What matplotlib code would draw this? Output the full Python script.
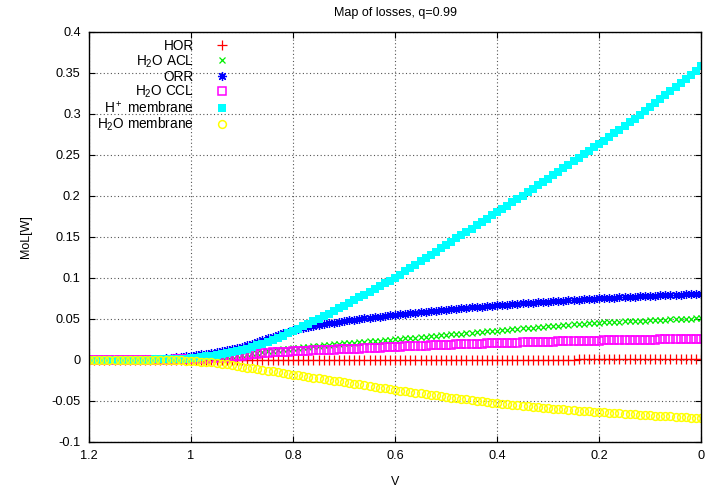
import numpy as np
import matplotlib
matplotlib.use("Agg")
import matplotlib.pyplot as plt

plt.rcParams['font.family'] = ['Liberation Sans', 'DejaVu Sans']
plt.rcParams['mathtext.default'] = 'regular'

# x grid: cell voltage from 1.2 down to 0.0 V in 0.01 steps
V = np.round(np.linspace(1.2, 0.0, 121), 2)

labels = ["HOR", "H$_2$O ACL", "ORR", "H$_2$O CCL", "H$^+$ membrane", "H$_2$O membrane"]

hor = [0.0000]*20 + [0.0000,
    0.0000, 0.0001, 0.0001, 0.0001, 0.0001, 0.0001, 0.0002, 0.0002, 0.0002, 0.0002,
    0.0002, 0.0002, 0.0003, 0.0003, 0.0003, 0.0003, 0.0003, 0.0003, 0.0003, 0.0003,
    0.0003, 0.0003, 0.0003, 0.0003, 0.0004, 0.0004, 0.0004, 0.0004, 0.0004, 0.0004,
    0.0004, 0.0004, 0.0004, 0.0004, 0.0004, 0.0004, 0.0004, 0.0004, 0.0004, 0.0004,
    0.0004, 0.0004, 0.0004, 0.0004, 0.0005, 0.0005, 0.0005, 0.0005, 0.0005, 0.0005,
    0.0005, 0.0005, 0.0005, 0.0005, 0.0005, 0.0005, 0.0005, 0.0005, 0.0005, 0.0005,
    0.0005, 0.0005, 0.0005, 0.0005, 0.0005, 0.0005, 0.0005, 0.0005, 0.0005, 0.0005,
    0.0005, 0.0005, 0.0005, 0.0005, 0.0005, 0.0006, 0.0006, 0.0006, 0.0006, 0.0006,
    0.0006, 0.0006, 0.0006, 0.0006, 0.0006, 0.0006, 0.0006, 0.0006, 0.0006, 0.0006,
    0.0006, 0.0006, 0.0006, 0.0006, 0.0006, 0.0006, 0.0006, 0.0006, 0.0006, 0.0006]

h2o_acl = [
    0.0000, 0.0000, 0.0000, 0.0000, 0.0000, 0.0000, 0.0001, 0.0001, 0.0001, 0.0001,
    0.0002, 0.0002, 0.0003, 0.0003, 0.0004,
    0.0005, 0.0006, 0.0007, 0.0008, 0.0009, 0.0011,
    0.0014, 0.0017, 0.0020, 0.0024, 0.0028, 0.0035, 0.0042, 0.0050, 0.0058, 0.0066,
    0.0074, 0.0082, 0.0090, 0.0098, 0.0106, 0.0114, 0.0122, 0.0130, 0.0138, 0.0145,
    0.0151, 0.0157, 0.0163, 0.0168, 0.0174, 0.0180, 0.0185, 0.0191, 0.0196, 0.0201,
    0.0206, 0.0211, 0.0216, 0.0221, 0.0226, 0.0231, 0.0236, 0.0241, 0.0245, 0.0250,
    0.0255, 0.0261, 0.0266, 0.0272, 0.0277, 0.0283, 0.0288, 0.0294, 0.0299, 0.0305,
    0.0310, 0.0315, 0.0321, 0.0326, 0.0331, 0.0336, 0.0342, 0.0347, 0.0352, 0.0357,
    0.0362, 0.0368, 0.0373, 0.0378, 0.0384, 0.0389, 0.0394, 0.0400, 0.0405, 0.0410,
    0.0415, 0.0419, 0.0424, 0.0428, 0.0432, 0.0437, 0.0441, 0.0445, 0.0450, 0.0454,
    0.0457, 0.0460, 0.0463, 0.0466, 0.0469, 0.0471, 0.0474, 0.0477, 0.0480, 0.0483,
    0.0485, 0.0488, 0.0490, 0.0493, 0.0495, 0.0498, 0.0500, 0.0503, 0.0505, 0.0508]

orr = [
    0.0000, 0.0000, 0.0000, 0.0001, 0.0001, 0.0001, 0.0002, 0.0002, 0.0003, 0.0004,
    0.0005, 0.0007, 0.0009, 0.0012, 0.0016,
    0.0020, 0.0025, 0.0031, 0.0037, 0.0043, 0.0050,
    0.0059, 0.0068, 0.0078, 0.0089, 0.0100, 0.0111, 0.0123, 0.0135, 0.0147, 0.0160,
    0.0180, 0.0200, 0.0220, 0.0240, 0.0262, 0.0284, 0.0305, 0.0325, 0.0343, 0.0360,
    0.0374, 0.0387, 0.0400, 0.0413, 0.0425, 0.0435, 0.0445, 0.0455, 0.0465, 0.0475,
    0.0483, 0.0491, 0.0499, 0.0507, 0.0514, 0.0521, 0.0528, 0.0535, 0.0543, 0.0550,
    0.0557, 0.0564, 0.0570, 0.0576, 0.0582, 0.0588, 0.0594, 0.0599, 0.0604, 0.0610,
    0.0616, 0.0622, 0.0628, 0.0634, 0.0640, 0.0645, 0.0650, 0.0655, 0.0660, 0.0665,
    0.0670, 0.0675, 0.0679, 0.0684, 0.0688, 0.0693, 0.0697, 0.0701, 0.0705, 0.0709,
    0.0714, 0.0718, 0.0722, 0.0727, 0.0731, 0.0735, 0.0739, 0.0743, 0.0747, 0.0751,
    0.0754, 0.0757, 0.0760, 0.0763, 0.0766, 0.0769, 0.0772, 0.0775, 0.0778, 0.0781,
    0.0784, 0.0786, 0.0789, 0.0791, 0.0794, 0.0796, 0.0798, 0.0800, 0.0802, 0.0804]

h2o_ccl = [
    0.0000, 0.0000, 0.0000, 0.0000, 0.0000, 0.0000, 0.0000, 0.0000, 0.0001, 0.0001,
    0.0001, 0.0002, 0.0002, 0.0003, 0.0003,
    0.0004, 0.0005, 0.0006, 0.0007, 0.0008, 0.0010,
    0.0012, 0.0014, 0.0016, 0.0018, 0.0020, 0.0023, 0.0027, 0.0033, 0.0042, 0.0053,
    0.0064, 0.0072, 0.0078, 0.0083, 0.0087, 0.0091, 0.0094, 0.0098, 0.0101, 0.0104,
    0.0107, 0.0110, 0.0112, 0.0115, 0.0117, 0.0120, 0.0122, 0.0125, 0.0127, 0.0130,
    0.0133, 0.0136, 0.0139, 0.0142, 0.0145, 0.0148, 0.0151, 0.0154, 0.0157, 0.0160,
    0.0163, 0.0165, 0.0168, 0.0170, 0.0173, 0.0175, 0.0178, 0.0180, 0.0183, 0.0185,
    0.0187, 0.0189, 0.0191, 0.0193, 0.0195, 0.0197, 0.0199, 0.0201, 0.0203, 0.0205,
    0.0207, 0.0209, 0.0210, 0.0212, 0.0214, 0.0215, 0.0217, 0.0219, 0.0220, 0.0222,
    0.0223, 0.0225, 0.0226, 0.0228, 0.0229, 0.0230, 0.0232, 0.0233, 0.0235, 0.0236,
    0.0237, 0.0238, 0.0239, 0.0240, 0.0241, 0.0242, 0.0243, 0.0244, 0.0245, 0.0247,
    0.0248, 0.0249, 0.0250, 0.0251, 0.0252, 0.0252, 0.0253, 0.0254, 0.0255, 0.0256]

h_membrane = [
    0.0000, 0.0000, 0.0000, 0.0000, 0.0001, 0.0001, 0.0001, 0.0002, 0.0002, 0.0003,
    0.0003, 0.0004, 0.0005, 0.0006, 0.0007,
    0.0008, 0.0010, 0.0012, 0.0015, 0.0017, 0.0020,
    0.0027, 0.0035, 0.0043, 0.0051, 0.0060, 0.0071, 0.0082, 0.0094, 0.0107, 0.0120,
    0.0138, 0.0157, 0.0177, 0.0198, 0.0220, 0.0245, 0.0270, 0.0296, 0.0323, 0.0350,
    0.0379, 0.0409, 0.0439, 0.0469, 0.0500, 0.0532, 0.0564, 0.0596, 0.0628, 0.0660,
    0.0694, 0.0728, 0.0762, 0.0796, 0.0830, 0.0864, 0.0898, 0.0932, 0.0966, 0.1000,
    0.1040, 0.1080, 0.1120, 0.1160, 0.1200, 0.1240, 0.1280, 0.1320, 0.1360, 0.1400,
    0.1440, 0.1480, 0.1520, 0.1560, 0.1600, 0.1640, 0.1680, 0.1720, 0.1760, 0.1800,
    0.1840, 0.1881, 0.1921, 0.1961, 0.2002, 0.2043, 0.2084, 0.2126, 0.2168, 0.2210,
    0.2252, 0.2294, 0.2336, 0.2378, 0.2420, 0.2462, 0.2504, 0.2546, 0.2588, 0.2630,
    0.2673, 0.2717, 0.2761, 0.2805, 0.2850, 0.2895, 0.2941, 0.2987, 0.3033, 0.3080,
    0.3127, 0.3175, 0.3223, 0.3271, 0.3320, 0.3370, 0.3421, 0.3473, 0.3526, 0.3580]

h2o_membrane = [
    0.0000, 0.0000, 0.0000, 0.0000, 0.0000, 0.0000, -0.0001, -0.0001, -0.0001, -0.0001,
    -0.0002, -0.0002, -0.0002, -0.0003, -0.0003,
    -0.0004, -0.0005, -0.0006, -0.0007, -0.0008, -0.0010,
    -0.0015, -0.0020, -0.0025, -0.0031, -0.0037, -0.0046, -0.0055, -0.0065, -0.0075, -0.0085,
    -0.0094, -0.0103, -0.0112, -0.0121, -0.0130, -0.0140, -0.0150, -0.0160, -0.0170, -0.0180,
    -0.0189, -0.0198, -0.0207, -0.0216, -0.0225, -0.0234, -0.0243, -0.0252, -0.0261, -0.0270,
    -0.0280, -0.0289, -0.0299, -0.0308, -0.0318, -0.0327, -0.0337, -0.0346, -0.0356, -0.0365,
    -0.0374, -0.0382, -0.0391, -0.0399, -0.0408, -0.0416, -0.0425, -0.0433, -0.0442, -0.0450,
    -0.0458, -0.0466, -0.0474, -0.0482, -0.0490, -0.0498, -0.0506, -0.0514, -0.0522, -0.0530,
    -0.0536, -0.0542, -0.0548, -0.0554, -0.0560, -0.0566, -0.0572, -0.0578, -0.0584, -0.0590,
    -0.0594, -0.0599, -0.0603, -0.0608, -0.0612, -0.0617, -0.0621, -0.0626, -0.0630, -0.0635,
    -0.0639, -0.0643, -0.0647, -0.0651, -0.0655, -0.0659, -0.0663, -0.0667, -0.0671, -0.0675,
    -0.0679, -0.0682, -0.0686, -0.0689, -0.0693, -0.0696, -0.0700, -0.0703, -0.0707, -0.0710]

series = [hor, h2o_acl, orr, h2o_ccl, h_membrane, h2o_membrane]

xticks = [1.2, 1.0, 0.8, 0.6, 0.4, 0.2, 0.0]
xticklabels = ["1.2", "1", "0.8", "0.6", "0.4", "0.2", "0"]
yticks = [-0.1, -0.05, 0, 0.05, 0.1, 0.15, 0.2, 0.25, 0.3, 0.35, 0.4]
yticklabels = ["-0.1", "-0.05", "0", "0.05", "0.1", "0.15", "0.2", "0.25", "0.3", "0.35", "0.4"]

styles = [
    dict(marker='+', color='#ff0000', ms=6.5, mew=0.9),
    dict(marker='x', color='#00ee00', ms=5.0, mew=0.9),
    dict(marker=(8, 2, 0), color='#0000ff', ms=6.5, mew=0.9),
    dict(marker='s', color='#ff00ff', ms=5.2, mew=1.1, mfc='none'),
    dict(marker='s', color='#00ffff', ms=5.6, mew=0.0),
    dict(marker='o', color='#ffff00', ms=5.6, mew=1.1, mfc='none'),
]

fig = plt.figure(figsize=(7.05, 4.88), dpi=100)
ax = fig.add_axes([89/705, 1 - 442/488, (701-89)/705, (442-31.6)/488])

for vals, lab, st in zip(series, labels, styles):
    ax.plot(V, vals, ls='none', label=lab, **st)

ax.set_xlim(1.2, 0.0)
ax.set_ylim(-0.1, 0.4)
ax.set_xticks(xticks)
ax.set_xticklabels(xticklabels)
ax.set_yticks(yticks)
ax.set_yticklabels(yticklabels)
ax.tick_params(direction='in', length=4.5, width=0.8, top=True, right=True,
               labelsize=9.2, colors='black')
ax.tick_params(axis='y', pad=6)
ax.tick_params(axis='x', pad=6)
ax.grid(True, color='#555555', linestyle=(0, (1, 2.2)), linewidth=0.8)
ax.set_axisbelow(True)
for sp in ax.spines.values():
    sp.set_linewidth(1.0)

ax.set_title("Map of losses, q=0.99", fontsize=9, pad=11)
ax.set_xlabel("V", fontsize=9, labelpad=10)
ax.set_ylabel("MoL[W]", fontsize=9, labelpad=14)

leg = ax.legend(loc='upper left', bbox_to_anchor=(-0.004, 1.008), markerfirst=False,
                frameon=False, numpoints=1, fontsize=9.8, handlelength=2.0,
                handletextpad=1.05, labelspacing=0.0, borderpad=0.3)
leg._legend_handle_box.get_children()[0].align = 'right'

fig.savefig("out.png", dpi=100)
